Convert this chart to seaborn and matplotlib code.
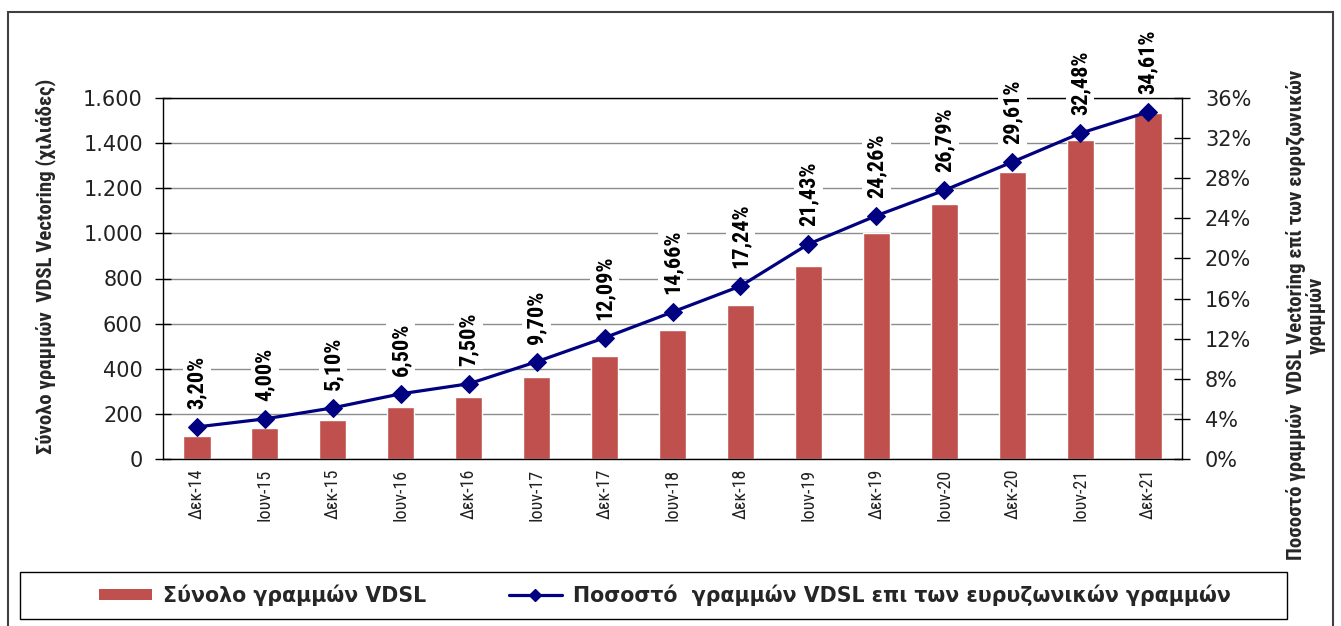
import numpy as np
import pandas as pd
import matplotlib
matplotlib.use("Agg")
import matplotlib.pyplot as plt
from matplotlib import font_manager as fm
from matplotlib.patches import Patch, Rectangle
from matplotlib.lines import Line2D
from matplotlib.ticker import FuncFormatter, MultipleLocator
import seaborn as sns

# ---- data ----
periods = ["Δεκ-14", "Ιουν-15", "Δεκ-15", "Ιουν-16", "Δεκ-16", "Ιουν-17", "Δεκ-17",
           "Ιουν-18", "Δεκ-18", "Ιουν-19", "Δεκ-19", "Ιουν-20", "Δεκ-20", "Ιουν-21", "Δεκ-21"]
vdsl_lines = [103, 136, 173, 229, 275, 363, 458, 570, 681, 855, 1000, 1129, 1270, 1413, 1533]
vdsl_pct = [3.20, 4.00, 5.10, 6.50, 7.50, 9.70, 12.09, 14.66, 17.24, 21.43, 24.26, 26.79, 29.61, 32.48, 34.61]

bar_label = "Σύνολο γραμμών VDSL"
line_label = "Ποσοστό  γραμμών VDSL επι των ευρυζωνικών γραμμών"
left_title = "Σύνολο γραμμών  VDSL Vectoring (χιλιάδες)"
right_title = "Ποσοστό γραμμών  VDSL Vectoring επί των ευρυζωνικών\nγραμμών"

BAR_COLOR = "#C0504D"
LINE_COLOR = "#000080"

sns.set_style("white")
WIDE = ['DejaVu Sans']
plt.rcParams['font.family'] = WIDE

installed = {f.name for f in fm.fontManager.ttflist}
cond_candidates = ['Liberation Sans Narrow', 'Arial Narrow', 'Roboto Condensed',
                   'Fira Sans Condensed', 'Open Sans Condensed', 'Sofia Sans Condensed',
                   'IBM Plex Sans Condensed']
COND = [c for c in cond_candidates if c in installed][:1] + ['Liberation Sans', 'DejaVu Sans']

W, H = 1341, 626
fig = plt.figure(figsize=(W / 100, H / 100), dpi=100)
ax = fig.add_axes([163 / W, 1 - 459 / H, 1019 / W, 361 / H])

df = pd.DataFrame({"period": periods, "lines": vdsl_lines, "pct": vdsl_pct})
sns.barplot(data=df, x="period", y="lines", color=BAR_COLOR, saturation=1,
            width=0.4, ax=ax, zorder=2)
ax.set_xlim(-0.5, len(periods) - 0.5)
ax.set_ylim(0, 1600)
ax.yaxis.set_major_locator(MultipleLocator(200))
ax.yaxis.set_major_formatter(FuncFormatter(lambda v, p: f"{v:,.0f}".replace(",", ".")))
ax.set_axisbelow(True)
ax.yaxis.grid(True, color="#8c8c8c", linewidth=1.0)
ax.set_xlabel("")
ax.set_ylabel("")
for s in ["left", "bottom", "top"]:
    ax.spines[s].set_color("black")
    ax.spines[s].set_linewidth(1.0)
ax.spines["right"].set_visible(False)

ax.set_xticks(np.arange(len(periods)))
ax.set_xticklabels(periods, rotation=90, fontsize=13, color="#222222", family=COND)
ax.set_xticks(np.arange(-0.5, len(periods), 1), minor=True)
ax.tick_params(axis="x", which="major", length=0, pad=7)
ax.tick_params(axis="x", which="minor", length=5, direction="out", color="black", width=1)
ax.tick_params(axis="y", which="major", length=11, direction="inout", color="black",
               width=1, pad=9, labelsize=15, labelcolor="#222222", left=True)

ax2 = ax.twinx()
ax2.set_position(ax.get_position())
sns.lineplot(data=df, x=df.index, y="pct", ax=ax2, color=LINE_COLOR, marker="D",
             markersize=9, markeredgecolor=LINE_COLOR, linewidth=2.3, zorder=3)
ax2.set_ylim(0, 36)
ax2.yaxis.set_major_locator(MultipleLocator(4))
ax2.yaxis.set_major_formatter(FuncFormatter(lambda v, p: f"{v:.0f}%"))
ax2.set_ylabel("")
ax2.set_xlabel("")
for s in ["left", "bottom", "top"]:
    ax2.spines[s].set_visible(False)
ax2.spines["right"].set_color("black")
ax2.spines["right"].set_linewidth(1.0)
ax2.tick_params(axis="y", which="major", length=11, direction="inout", color="black",
                width=1, pad=11, labelsize=15, labelcolor="#222222", right=True)
ax2.grid(False)

for i, v in enumerate(vdsl_pct):
    ax2.annotate(f"{v:.2f}%".replace(".", ","), xy=(i, v), xytext=(0, 13),
                 textcoords="offset points", rotation=90, ha="center", va="bottom",
                 fontsize=16, fontweight="bold", family=COND, color="black",
                 bbox=dict(boxstyle="square,pad=0.15", fc="white", ec="none"),
                 zorder=5)

fig.text(46 / W, 1 - 266 / H, left_title, rotation=90, ha="center", va="center",
         fontsize=15, fontweight="bold", family=COND)
fig.text(1306 / W, 1 - 315 / H, right_title, rotation=90, ha="center", va="center",
         fontsize=15, fontweight="bold", family=COND, multialignment="center",
         linespacing=1.0)

handles = [Patch(facecolor=BAR_COLOR, edgecolor="none"),
           Line2D([0], [0], color=LINE_COLOR, marker="D", markersize=6, linewidth=2.3)]
fig.legend(handles, [bar_label, line_label], loc="center",
           bbox_to_anchor=(665 / W, 1 - 595 / H), ncol=2, frameon=False,
           prop=dict(family=WIDE, weight="bold", size=14.8),
           handlelength=2.6, handleheight=0.42, handletextpad=0.55, columnspacing=4.0)

fig.patches.append(Rectangle((20 / W, 1 - 619 / H), 1267 / W, 47 / H, transform=fig.transFigure,
                             fill=False, edgecolor="black", linewidth=1.0, figure=fig))
fig.patches.append(Rectangle((8 / W, -0.05), 1325 / W, 1 - 12 / H + 0.05, transform=fig.transFigure,
                             fill=False, edgecolor="#404040", linewidth=1.5, figure=fig))

fig.savefig("out.png", dpi=100, facecolor="white")
